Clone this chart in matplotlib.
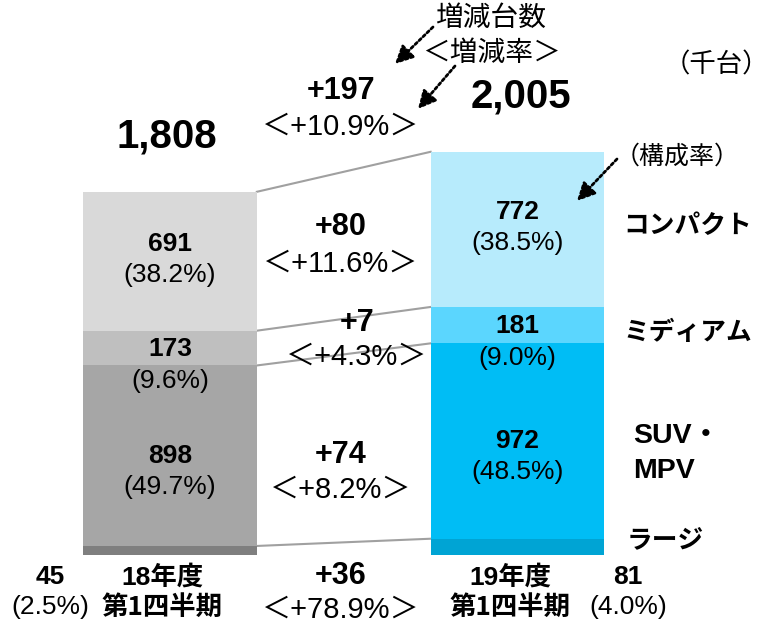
import matplotlib
matplotlib.use("Agg")
import matplotlib.pyplot as plt
import numpy as np

# ---------------- data ----------------
periods = ["18年度\n第1四半期", "19年度\n第1四半期"]
segments = ["ラージ", "SUV・\nMPV", "ミディアム", "コンパクト"]   # bottom -> top
vals_18 = [45, 898, 173, 691]
vals_19 = [81, 972, 181, 772]
share_18 = ["(2.5%)", "(49.7%)", "(9.6%)", "(38.2%)"]
share_19 = ["(4.0%)", "(48.5%)", "(9.0%)", "(38.5%)"]
diff_vals = ["+36", "+74", "+7", "+80"]
diff_rates = ["＜+78.9%＞", "＜+8.2%＞", "＜+4.3%＞", "＜+11.6%＞"]
total_18, total_19 = 1808, 2005
total_diff, total_rate = "+197", "＜+10.9%＞"

colors_18 = ["#7f7f7f", "#a6a6a6", "#bfbfbf", "#d9d9d9"]
colors_19 = ["#00a4d4", "#00bdf5", "#5bd6fe", "#b7ebfc"]

LAT = ["Liberation Sans", "Noto Sans CJK JP"]
JP = ["Noto Sans CJK JP", "Liberation Sans"]

W, H = 773, 623
fig = plt.figure(figsize=(W / 100, H / 100), dpi=100)
ax = fig.add_axes([0, 0, 1, 1])
ax.set_xlim(-0.4892, 1.7353)
ax.set_ylim(-338.3, 2761.2)
ax.axis("off")

def P(x, y):
    return (x / W, 1 - y / H)

def pt(px):
    return px * 0.72

xs = [0, 1]
bw = 0.5
cum18 = np.concatenate([[0], np.cumsum(vals_18)])
cum19 = np.concatenate([[0], np.cumsum(vals_19)])

for i in range(4):
    ax.bar(xs[0], vals_18[i], bottom=cum18[i], width=bw, color=colors_18[i], linewidth=0, zorder=2)
    ax.bar(xs[1], vals_19[i], bottom=cum19[i], width=bw, color=colors_19[i], linewidth=0, zorder=2)

# connector lines at each segment top
for i in range(4):
    ax.plot([xs[0] + bw / 2, xs[1] - bw / 2], [cum18[i + 1], cum19[i + 1]],
            color="#a0a0a0", lw=1.5, zorder=1)

# segment labels (large segment labels are placed below the bars)
offs = {1: (0, -31), 2: (-1, -33), 3: (17, -14)}  # value offset, share offset (px, up positive)
for i in (1, 2, 3):
    vo, so = offs[i]
    for x, vals, cum, sh in ((xs[0], vals_18, cum18, share_18), (xs[1], vals_19, cum19, share_19)):
        yc = (cum[i] + cum[i + 1]) / 2
        ax.annotate(str(vals[i]), (x, yc), xytext=(0, pt(vo)), textcoords="offset points",
                    ha="center", va="center", fontsize=19, fontweight="bold", family=LAT, zorder=5)
        ax.annotate(sh[i], (x, yc), xytext=(0, pt(so)), textcoords="offset points",
                    ha="center", va="center", fontsize=19, family=LAT, zorder=5)

# totals
ax.annotate(f"{total_18:,}", (xs[0], total_18), xytext=(pt(-3), pt(55)), textcoords="offset points",
            ha="center", va="center", fontsize=29, fontweight="bold", family=LAT)
ax.annotate(f"{total_19:,}", (xs[1], total_19), xytext=(pt(3), pt(55)), textcoords="offset points",
            ha="center", va="center", fontsize=29, fontweight="bold", family=LAT)

# change labels between bars
diff_pos = [(341, 576, 610), (341, 455, 490), (357, 323, 357), (341, 227, 264)]
for i in range(4):
    x, y1, y2 = diff_pos[i]
    fig.text(*P(x, y1), diff_vals[i], ha="center", va="center", fontsize=22, fontweight="bold", family=LAT)
    fig.text(*P(x, y2), diff_rates[i], ha="center", va="center", fontsize=21, family=LAT)
fig.text(*P(341, 91), total_diff, ha="center", va="center", fontsize=22, fontweight="bold", family=LAT)
fig.text(*P(341, 127), total_rate, ha="center", va="center", fontsize=21, family=LAT)

# large segment labels below bars
fig.text(*P(50, 577), str(vals_18[0]), ha="center", va="center", fontsize=19, fontweight="bold", family=LAT)
fig.text(*P(50, 607), share_18[0], ha="center", va="center", fontsize=19, family=LAT)
fig.text(*P(628, 577), str(vals_19[0]), ha="center", va="center", fontsize=19, fontweight="bold", family=LAT)
fig.text(*P(628, 607), share_19[0], ha="center", va="center", fontsize=19, family=LAT)

# period labels
for x, lab in zip((162, 510), periods):
    l1, l2 = lab.split("\n")
    fig.text(*P(x, 577), l1, ha="center", va="center", fontsize=19, fontweight="bold", family=LAT)
    fig.text(*P(x, 607), l2, ha="center", va="center", fontsize=19, fontweight="bold", family=JP)

# segment names on the right
seg_pos = [(627, 541), (633, 436), (623, 332), (623, 226)]
for i in range(4):
    x, y = seg_pos[i]
    if "\n" in segments[i]:
        a, b = segments[i].split("\n")
        fig.text(*P(x, y), a, ha="left", va="center", fontsize=20.5, fontweight="bold", family=LAT)
        fig.text(*P(x, y + 35), b, ha="left", va="center", fontsize=20.5, fontweight="bold", family=LAT)
    else:
        fig.text(*P(x, y), segments[i], ha="left", va="center", fontsize=18.5, fontweight="bold", family=JP)

# annotations
fig.text(*P(491, 18), "増減台数", ha="center", va="center", fontsize=20, family=JP)
fig.text(*P(491, 53), "＜増減率＞", ha="center", va="center", fontsize=20, family=JP)
fig.text(*P(716, 65), "（千台）", ha="center", va="center", fontsize=19, family=JP)
fig.text(*P(677, 157), "（構成率）", ha="center", va="center", fontsize=18, family=JP)

arrows = [((433, 27), (395, 64)), ((455, 66), (418, 109)), ((617, 159), (577, 201))]
for (tx, ty), (hx, hy) in arrows:
    ax.annotate("", xy=P(hx, hy), xycoords="figure fraction", xytext=P(tx, ty), textcoords="figure fraction",
                arrowprops=dict(arrowstyle="-|>,head_length=0.6,head_width=0.3", color="black",
                                lw=2, linestyle=(0, (1, 1)), shrinkA=0, shrinkB=0, mutation_scale=18))

fig.savefig("out.png", dpi=100)
